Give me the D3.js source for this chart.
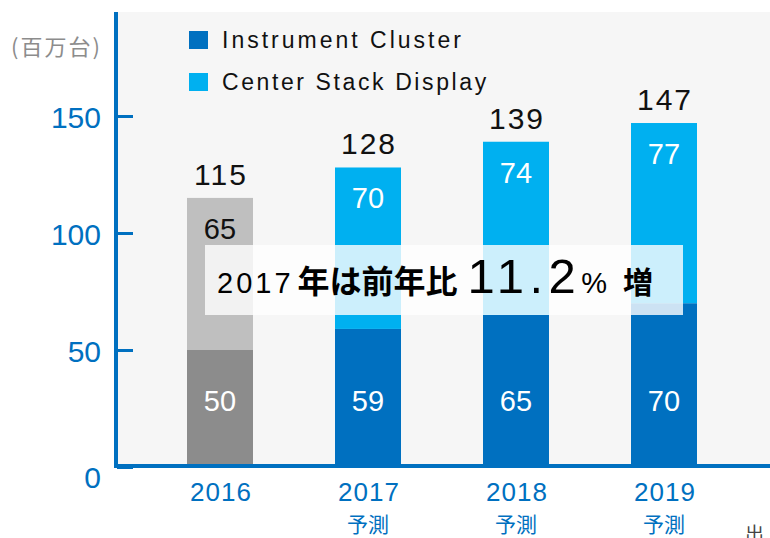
<!DOCTYPE html>
<html>
<head>
<meta charset="utf-8">
<script src="https://cdn.jsdelivr.net/npm/d3@7"></script>
<style>
  body { margin: 0; background: #fff; }
  text { font-family: "Liberation Sans", Arial, "Noto Sans CJK JP", sans-serif; }
</style>
</head>
<body>
<div id="chart"></div>
<script>
// data
var years = ["2016", "2017", "2018", "2019"];
var subLabels = ["", "予測", "予測", "予測"];
var cluster = [50, 59, 65, 70];
var center = [65, 70, 74, 77];
var totals = [115, 128, 139, 147];
var yTicks = [0, 50, 100, 150];
var seriesNames = ["Instrument Cluster", "Center Stack Display"];

var svgWidth = 770;
var svgHeight = 538;

var blue = "#0070c0";
var lightBlue = "#00b0f0";
var jp = "'Noto Sans CJK JP', sans-serif";

var svg = d3.select("#chart")
  .append("svg")
  .attr("width", svgWidth)
  .attr("height", svgHeight);

// scales
var x = d3.scalePoint()
  .domain(years)
  .range([220, 664]);

var y = d3.scaleLinear()
  .domain([0, 150])
  .range([467, 116]);

var barW = 66;

// plot background
svg.append("rect")
  .attr("x", 117)
  .attr("y", 12)
  .attr("width", svgWidth - 117)
  .attr("height", 455)
  .attr("fill", "#f6f6f6");

// bars
var bars = svg.append("g");
years.forEach(function (yr, i) {
  var isActual = i === 0;
  bars.append("rect")
    .attr("x", x(yr) - barW / 2)
    .attr("y", y(cluster[i]))
    .attr("width", barW)
    .attr("height", y(0) - y(cluster[i]))
    .attr("fill", isActual ? "#8c8c8c" : blue);
  bars.append("rect")
    .attr("x", x(yr) - barW / 2)
    .attr("y", y(totals[i]))
    .attr("width", barW)
    .attr("height", y(cluster[i]) - y(totals[i]))
    .attr("fill", isActual ? "#bfbfbf" : lightBlue);

  // segment labels
  bars.append("text")
    .attr("x", x(yr))
    .attr("y", 411)
    .attr("text-anchor", "middle")
    .attr("font-size", 29)
    .attr("fill", "#fff")
    .text(cluster[i]);
  bars.append("text")
    .attr("x", x(yr))
    .attr("y", y(totals[i]) + 41)
    .attr("text-anchor", "middle")
    .attr("font-size", 29)
    .attr("fill", isActual ? "#111" : "#fff")
    .text(center[i]);

  // totals
  bars.append("text")
    .attr("x", x(yr) + 1)
    .attr("y", y(totals[i]) - 13)
    .attr("text-anchor", "middle")
    .attr("font-size", 30)
    .attr("letter-spacing", 2)
    .attr("fill", "#111")
    .text(totals[i]);

  // category labels
  svg.append("text")
    .attr("x", x(yr) + 1)
    .attr("y", 501)
    .attr("text-anchor", "middle")
    .attr("font-size", 26)
    .attr("letter-spacing", 1)
    .attr("fill", blue)
    .text(yr);
  if (subLabels[i]) {
    svg.append("text")
      .attr("x", x(yr))
      .attr("y", 531.5)
      .attr("text-anchor", "middle")
      .attr("font-size", 21)
      .attr("fill", blue)
      .style("font-family", jp)
      .text(subLabels[i]);
  }
});

// y axis
var yAxis = svg.append("g")
  .attr("transform", "translate(117,0)")
  .call(d3.axisLeft(y).tickValues(yTicks).tickSizeInner(-16).tickSizeOuter(0).tickPadding(16));
yAxis.select(".domain").remove();
yAxis.selectAll(".tick line").attr("stroke", blue).attr("stroke-width", 3);
yAxis.selectAll(".tick text")
  .attr("font-size", 30)
  .attr("fill", blue)
  .attr("dy", "0.38em");
yAxis.selectAll(".tick").filter(function (d) { return d === 0; })
  .select("text").attr("transform", "translate(0,9)");

// axis lines
svg.append("line")
  .attr("x1", 116).attr("x2", 116)
  .attr("y1", 12).attr("y2", 468)
  .attr("stroke", blue).attr("stroke-width", 4);
svg.append("line")
  .attr("x1", 114).attr("x2", svgWidth)
  .attr("y1", 466).attr("y2", 466)
  .attr("stroke", blue).attr("stroke-width", 4);

// unit label
svg.append("text")
  .attr("x", 11)
  .attr("y", 55)
  .attr("font-size", 22)
  .attr("letter-spacing", 2)
  .attr("fill", "#8c8c8c")
  .style("font-family", jp)
  .text("(百万台)");

// legend
var legend = svg.append("g");
[blue, lightBlue].forEach(function (c, i) {
  legend.append("rect")
    .attr("x", 189)
    .attr("y", 31 + i * 42)
    .attr("width", 19)
    .attr("height", 18)
    .attr("fill", c);
  legend.append("text")
    .attr("x", 222)
    .attr("y", 48 + i * 42)
    .attr("font-size", 23)
    .attr("letter-spacing", i === 0 ? 3 : 2.6)
    .attr("fill", "#111")
    .text(seriesNames[i]);
});

// annotation
svg.append("rect")
  .attr("x", 205)
  .attr("y", 245)
  .attr("width", 478)
  .attr("height", 70)
  .attr("fill", "#fff")
  .attr("opacity", 0.8);

var note = svg.append("text")
  .attr("x", 217)
  .attr("y", 293)
  .attr("fill", "#000");
note.append("tspan")
  .attr("font-size", 29)
  .attr("letter-spacing", 3)
  .text("2017");
note.append("tspan")
  .attr("font-size", 32)
  .attr("font-weight", "bold")
  .attr("dx", 4)
  .style("font-family", jp)
  .text("年は前年比");
note.append("tspan")
  .attr("font-size", 49)
  .attr("letter-spacing", 5.5)
  .attr("dx", 10)
  .text("11.2");
note.append("tspan")
  .attr("font-size", 29)
  .attr("dx", 0)
  .text("%");
note.append("tspan")
  .attr("font-size", 30)
  .attr("font-weight", "bold")
  .attr("dx", 16)
  .style("font-family", jp)
  .text("増");

// cut-off source note
svg.append("text")
  .attr("x", 745)
  .attr("y", 541)
  .attr("font-size", 19)
  .attr("fill", "#444")
  .style("font-family", jp)
  .text("出");
</script>
</body>
</html>
